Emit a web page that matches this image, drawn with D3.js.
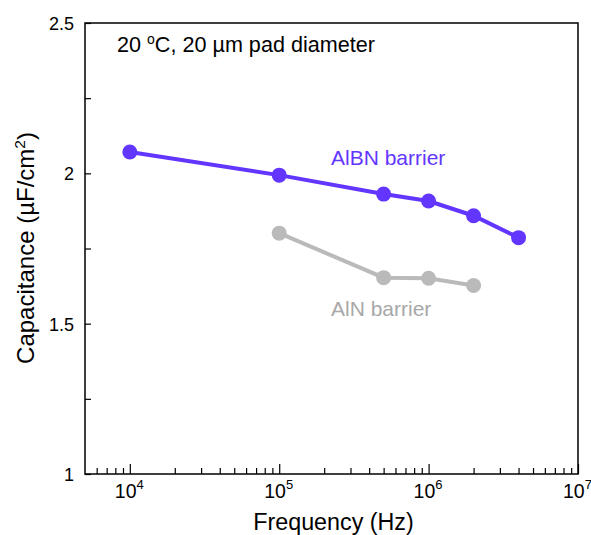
<!DOCTYPE html>
<html><head><meta charset="utf-8">
<script src="https://cdn.jsdelivr.net/npm/d3@7"></script>
<style>body{margin:0;background:#fff}text{font-family:"Liberation Sans",Arial,sans-serif}</style>
</head><body><svg id="c" width="591" height="535"></svg>
<script>
const albnFreq = [1e4, 1e5, 5e5, 1e6, 2e6, 4e6];
const albnCap  = [2.071, 1.994, 1.931, 1.908, 1.859, 1.786];
const alnFreq  = [1e5, 5e5, 1e6, 2e6];
const alnCap   = [1.801, 1.653, 1.651, 1.627];
const yTicks = [1, 1.5, 2, 2.5];
const yMinor = [1.25, 1.75, 2.25];
const xTickExp = [4, 5, 6, 7];

const svg = d3.select("#c");
const L = 85, R = 578, T = 23, B = 474;
const x = d3.scaleLog().domain([Math.pow(10,3.7), 1e7]).range([L, R]);
const y = d3.scaleLinear().domain([1, 2.5]).range([B, T]);

// frame
svg.append("rect").attr("x",L).attr("y",T).attr("width",R-L).attr("height",B-T)
  .attr("fill","none").attr("stroke","#000").attr("stroke-width",1.5);

// y ticks
const yAxis = d3.axisLeft(y).tickValues(yTicks).tickSize(-6).tickPadding(11).tickFormat(d3.format("~g"));
const ya = svg.append("g").attr("transform",`translate(${L},0)`).call(yAxis);
const yb = svg.append("g").attr("transform",`translate(${L},0)`).call(d3.axisLeft(y).tickValues(yMinor).tickSize(-6).tickFormat(""));
[ya,yb].forEach(g=>{g.select(".domain").remove();g.selectAll("line").attr("stroke","#000").attr("stroke-width",1.2);});
ya.selectAll("text").attr("font-size",18).attr("fill","#000").attr("font-family","Liberation Sans, Arial, sans-serif").attr("dy","0.36em");

// x ticks
const minor = [];
for (let e=3; e<7; e++) for (let m=2; m<=9; m++){ const v=m*Math.pow(10,e); if (v>x.domain()[0] && v<1e7) minor.push(v); }
const xa = svg.append("g").attr("transform",`translate(0,${B})`).call(d3.axisBottom(x).tickValues(xTickExp.map(e=>Math.pow(10,e))).tickSize(-10).tickFormat(""));
const xb = svg.append("g").attr("transform",`translate(0,${B})`).call(d3.axisBottom(x).tickValues(minor).tickSize(-6).tickFormat(""));
[xa,xb].forEach(g=>{g.select(".domain").remove();g.selectAll("line").attr("stroke","#000").attr("stroke-width",1.2);});
xTickExp.forEach(e=>{
  const t = svg.append("text").attr("x",x(Math.pow(10,e))-15).attr("y",498).attr("text-anchor","start").attr("font-size",19.5);
  t.append("tspan").text("10");
  t.append("tspan").attr("dy",-9).attr("font-size",13).text(e);
});

// axis labels
svg.append("text").attr("x",333.5).attr("y",530).attr("text-anchor","middle").attr("font-size",23.3).text("Frequency (Hz)");
const yl = svg.append("text").attr("transform",`translate(34,248) rotate(-90)`).attr("text-anchor","middle").attr("font-size",24);
yl.append("tspan").text("Capacitance (µF/cm");
yl.append("tspan").attr("dy",-9).attr("font-size",15.5).text("2");
yl.append("tspan").attr("dy",9).text(")");

// title
const tt = svg.append("text").attr("x",117).attr("y",52).attr("font-size",21.6);
tt.append("tspan").text("20 ");
tt.append("tspan").attr("dy",-8).attr("font-size",14).text("o");
tt.append("tspan").attr("dy",8).text("C, 20 µm pad diameter");

// series
const line = d3.line().x(d=>x(d[0])).y(d=>y(d[1]));
function series(fr, cap, color){
  const d = fr.map((f,i)=>[f,cap[i]]);
  svg.append("path").datum(d).attr("d",line).attr("fill","none").attr("stroke",color).attr("stroke-width",4);
  svg.selectAll(null).data(d).enter().append("circle").attr("cx",p=>x(p[0])).attr("cy",p=>y(p[1])).attr("r",7.5).attr("fill",color);
}
series(alnFreq, alnCap, "#bababa");
series(albnFreq, albnCap, "#6236ff");

svg.append("text").attr("x",331).attr("y",165).attr("font-size",21).attr("fill","#6236ff").text("AlBN barrier");
svg.append("text").attr("x",331).attr("y",316).attr("font-size",21).attr("fill","#a8a8a8").text("AlN barrier");
</script></body></html>
